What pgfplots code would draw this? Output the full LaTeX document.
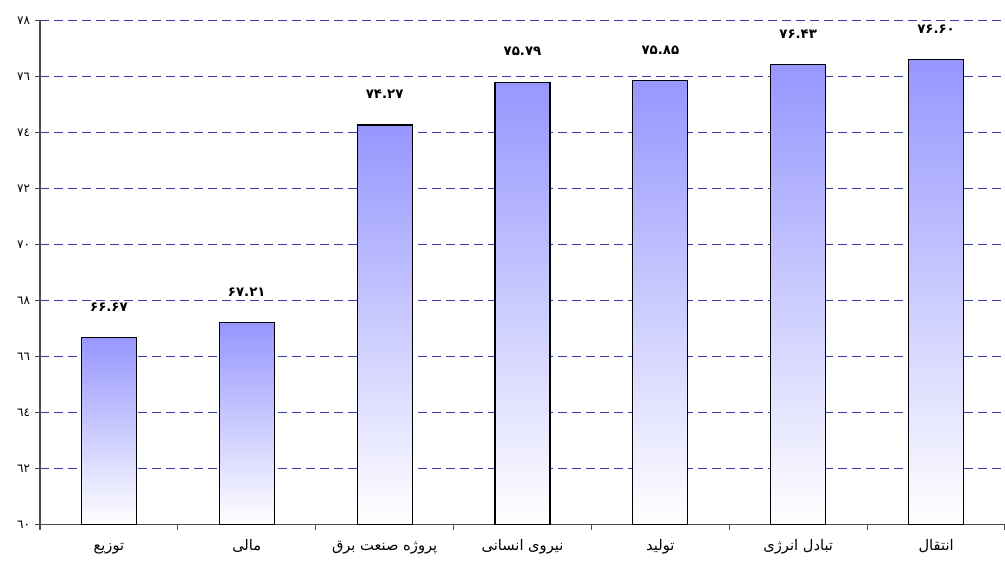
\documentclass[border=0pt]{standalone}
\usepackage{fontspec}
\usepackage{pgfplots}
\pgfplotsset{compat=1.18}
\setmainfont{DejaVu Sans}
\newfontfamily\arabicfont[Script=Arabic]{DejaVu Sans}
\TeXXeTstate=1
\definecolor{gridblue}{RGB}{60,60,175}
\definecolor{barblue}{RGB}{150,150,255}
\pgfplotsset{mybar/.style={ybar, bar width=41.25pt, draw=black, line width=0.9pt, top color=barblue, bottom color=white, mark=none}}
\begin{document}
\begin{tikzpicture}
\begin{axis}[
  scale only axis,
  width=723.75pt, height=378pt,
  xmin=-0.5, xmax=6.5, ymin=60, ymax=78,
  enlarge x limits=false,
  axis lines*=left,
  axis line style={gray!60!black, line width=0.9pt},
  tick style={gray!60!black, line width=0.8pt},
  tick align=outside,
  major tick length=4pt,
  xtick={-0.5,0.5,...,6.5},
  xticklabels={},
  extra x ticks={0,1,2,3,4,5,6},
  extra x tick labels={
    {\arabicfont\beginR توزیع\endR},
    {\arabicfont\beginR مالی\endR},
    {\arabicfont\beginR پروژه صنعت برق\endR},
    {\arabicfont\beginR نیروی انسانی\endR},
    {\arabicfont\beginR تولید\endR},
    {\arabicfont\beginR تبادل انرژی\endR},
    {\arabicfont\beginR انتقال\endR}},
  extra x tick style={major tick length=0pt, grid=none},
  xticklabel style={font=\fontsize{11}{12}\selectfont, anchor=north, text height=8pt, text depth=3pt, yshift=-8pt},
  ytick={60,62,...,78},
  yticklabels={٦٠,٦٢,٦٤,٦٦,٦٨,٧٠,٧٢,٧٤,٧٦,٧٨},
  yticklabel style={font=\fontsize{9}{10}\selectfont\arabicfont},
  ymajorgrids,
  major grid style={draw=gridblue, dash pattern=on 7pt off 3.5pt, line width=0.75pt},
  nodes near coords,
  point meta=explicit symbolic,
  nodes near coords style={font=\fontsize{10}{12}\selectfont\bfseries\arabicfont, anchor=center, yshift=23pt, text=black},
]
\addplot[mybar] coordinates {(0,66.67) [۶۶.۶۷]};
\addplot[mybar] coordinates {(1,67.21) [۶۷.۲۱]};
\addplot[mybar] coordinates {(2,74.27) [۷۴.۲۷]};
\addplot[mybar] coordinates {(3,75.79) [۷۵.۷۹]};
\addplot[mybar] coordinates {(4,75.85) [۷۵.۸۵]};
\addplot[mybar] coordinates {(5,76.43) [۷۶.۴۳]};
\addplot[mybar] coordinates {(6,76.60) [۷۶.۶۰]};
\end{axis}
\pgfresetboundingbox
\path ([xshift=-30pt,yshift=-28.125pt]current axis.south west) rectangle ([yshift=15.375pt]current axis.north east);
\end{tikzpicture}
\end{document}
